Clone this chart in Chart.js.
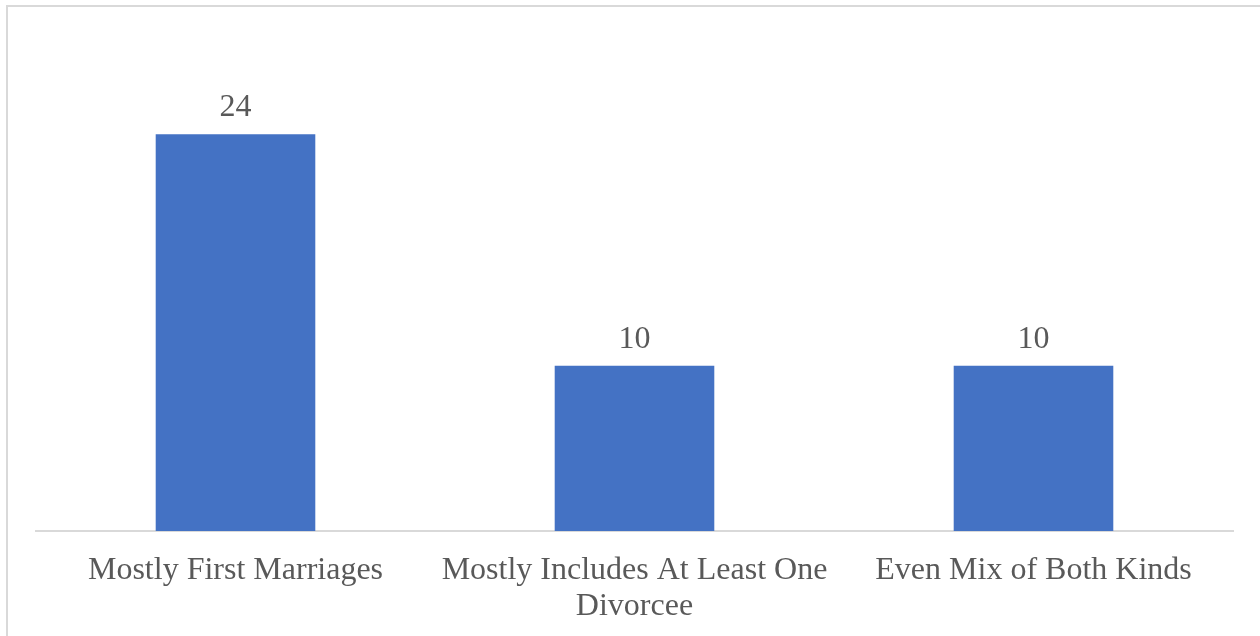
<!DOCTYPE html>
<html>
<head>
<meta charset="utf-8">
<script src="https://cdn.jsdelivr.net/npm/chart.js@4/dist/chart.umd.min.js"></script>
<style>
  html, body { margin: 0; padding: 0; background: #ffffff; }
  #wrap { width: 1260px; height: 636px; position: relative; }
</style>
</head>
<body>
<div id="wrap"><canvas id="c" width="1260" height="636"></canvas></div>
<script>
// Marriage-history groups and counts
const categories = [
  'Mostly First Marriages',
  ['Mostly Includes At Least One', 'Divorcee'],
  'Even Mix of Both Kinds'
];
const counts = [24, 10, 10];

const FONT = '"Liberation Serif", "Times New Roman", serif';
const TEXT = '#595959';

// Light frame along the left and top edges
const framePlugin = {
  id: 'frame',
  beforeDraw(chart) {
    const ctx = chart.ctx;
    ctx.save();
    ctx.strokeStyle = '#d9d9d9';
    ctx.lineWidth = 2;
    ctx.beginPath();
    ctx.moveTo(7, 636);
    ctx.lineTo(7, 6);
    ctx.lineTo(1260, 6);
    ctx.stroke();
    ctx.restore();
  }
};

// Value labels above each bar
const valueLabels = {
  id: 'valueLabels',
  afterDatasetsDraw(chart) {
    const ctx = chart.ctx;
    const meta = chart.getDatasetMeta(0);
    ctx.save();
    ctx.font = '32px ' + FONT;
    ctx.fillStyle = TEXT;
    ctx.textAlign = 'center';
    ctx.textBaseline = 'alphabetic';
    meta.data.forEach((bar, i) => {
      ctx.fillText(String(chart.data.datasets[0].data[i]), bar.x, bar.y - 18);
    });
    ctx.restore();
  }
};

new Chart(document.getElementById('c'), {
  type: 'bar',
  data: {
    labels: categories,
    datasets: [{
      data: counts,
      backgroundColor: '#4472c4',
      borderWidth: 0,
      barPercentage: 0.4,
      categoryPercentage: 1.0
    }]
  },
  options: {
    responsive: false,
    animation: false,
    devicePixelRatio: 1,
    layout: { padding: { left: 36, right: 27, top: 35, bottom: 0 } },
    plugins: {
      legend: { display: false },
      tooltip: { enabled: false }
    },
    scales: {
      x: {
        grid: { display: false, drawTicks: false },
        border: { display: true, color: '#d9d9d9', width: 2 },
        ticks: {
          color: TEXT,
          maxRotation: 0,
          autoSkip: false,
          padding: 22,
          font: { family: FONT, size: 32, lineHeight: '36px' }
        },
        afterFit(scale) { scale.height = 105; }
      },
      y: {
        display: false,
        min: 0,
        max: 30
      }
    }
  },
  plugins: [framePlugin, valueLabels]
});
</script>
</body>
</html>
